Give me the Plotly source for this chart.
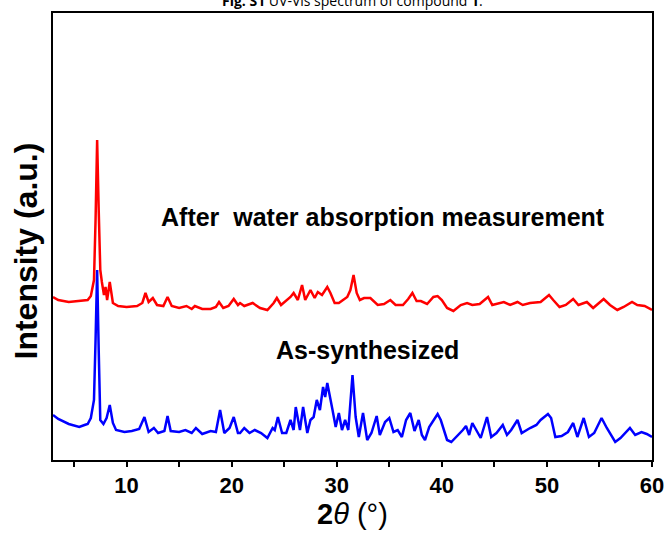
import plotly.graph_objects as go

# Red: after water absorption measurement (2theta, intensity a.u.)
red_x = [3.0, 3.5, 4.5, 5.5, 6.3, 6.6, 6.9, 7.05, 7.2, 7.35, 7.5, 7.65, 7.85, 8.0, 8.15, 8.4, 8.7, 9.2, 10.0, 11.0,
         11.5, 11.8, 12.1, 12.5, 12.9, 13.5, 13.9, 14.3, 15.0, 15.7, 16.2, 16.5, 17.2, 18.0, 18.5, 18.8, 19.2, 19.7, 20.2, 20.6,
         20.8, 21.2, 22.0, 22.7, 23.4, 24.0, 24.3, 24.7, 25.2, 25.6, 25.9, 26.3, 26.7, 27.0, 27.5, 27.9, 28.2, 28.6, 29.1, 29.4,
         29.8, 30.2, 30.6, 31.0, 31.3, 31.6, 31.9, 32.2, 32.6, 33.2, 33.9, 34.5, 35.1, 35.6, 36.3, 36.8, 37.2, 37.6, 38.0, 38.6,
         39.2, 39.6, 40.0, 40.5, 41.1, 41.8, 42.4, 42.9, 43.6, 44.4, 44.8, 45.9, 46.5, 47.2, 47.7, 48.4, 49.4, 50.2, 50.6, 51.2,
         51.8, 52.5, 53.0, 53.8, 54.4, 55.4, 56.0, 56.7, 57.3, 58.1, 58.6, 59.3, 60.0]
red_px = [297, 300, 302, 301, 300, 296, 280, 220, 140, 210, 270, 282, 295, 287, 300, 282, 303, 306, 307, 306,
          303, 293, 302, 298, 305, 306, 297, 306, 308, 306, 309, 306, 309, 309, 307, 302, 308, 306, 299, 305,
          303, 306, 303, 308, 310, 303, 298, 305, 301, 297, 293, 300, 285, 300, 290, 298, 292, 295, 287, 293,
          303, 303, 300, 297, 290, 275, 293, 300, 298, 298, 305, 304, 300, 305, 305, 299, 293, 301, 301, 304,
          297, 296, 300, 308, 311, 305, 303, 305, 304, 297, 305, 302, 305, 302, 305, 303, 302, 295, 300, 307,
          305, 299, 305, 302, 308, 299, 305, 310, 307, 302, 305, 306, 310]
red_y = [460 - v for v in red_px]

# Blue: as-synthesized
blue_x = [3.0, 3.5, 4.5, 5.5, 6.0, 6.3, 6.6, 6.9, 7.05, 7.2, 7.35, 7.5, 7.8, 8.1, 8.4, 8.7, 9.0, 9.8, 10.5, 11.2,
          11.7, 12.1, 12.6, 13.0, 13.6, 13.9, 14.2, 15.0, 15.6, 16.2, 16.6, 17.2, 18.0, 18.5, 18.9, 19.3, 19.8, 20.2, 20.6, 20.8,
          21.2, 21.7, 22.2, 22.8, 23.4, 23.9, 24.1, 24.4, 24.8, 25.2, 25.6, 25.9, 26.1, 26.5, 26.8, 27.2, 27.5, 27.8, 28.1, 28.4,
          28.7, 28.9, 29.1, 29.3, 29.6, 29.9, 30.2, 30.5, 30.8, 31.1, 31.5, 31.8, 32.1, 32.5, 32.9, 33.3, 33.8, 34.1, 34.6, 35.0,
          35.4, 35.8, 36.2, 36.6, 37.0, 37.4, 37.8, 38.1, 38.4, 38.8, 39.2, 39.6, 39.9, 40.2, 40.5, 40.9, 41.4, 42.0, 42.3, 42.6,
          42.9, 43.3, 43.7, 44.3, 44.7, 45.2, 45.8, 46.2, 46.6, 47.2, 47.6, 48.4, 49.0, 49.4, 49.8, 50.1, 50.4, 50.8, 51.4, 52.0,
          52.5, 52.9, 53.5, 54.0, 54.5, 55.2, 55.7, 56.5, 57.0, 57.9, 58.4, 59.0, 59.5, 60.0]
blue_px = [415, 419, 424, 427, 425, 424, 418, 400, 340, 270, 350, 420, 424, 418, 405, 423, 430, 432, 431, 429,
           417, 432, 428, 433, 431, 416, 431, 432, 430, 433, 428, 434, 431, 432, 410, 433, 428, 417, 433, 433,
           428, 433, 430, 433, 438, 428, 430, 417, 433, 433, 420, 430, 407, 430, 407, 433, 420, 417, 400, 410,
           387, 397, 383, 393, 410, 427, 413, 430, 420, 430, 375, 417, 437, 413, 440, 433, 416, 435, 422, 418,
           432, 430, 437, 420, 413, 431, 420, 435, 440, 427, 420, 414, 420, 430, 440, 442, 437, 430, 426, 435,
           423, 430, 438, 417, 437, 433, 425, 435, 430, 420, 433, 428, 425, 420, 417, 414, 418, 437, 436, 432,
           423, 437, 418, 437, 433, 418, 428, 442, 438, 428, 435, 432, 434, 437]
blue_y = [460 - v for v in blue_px]

x_tick_vals = [10, 20, 30, 40, 50, 60]
x_tick_text = ["<b>10</b>", "<b>20</b>", "<b>30</b>", "<b>40</b>", "<b>50</b>", "<b>60</b>"]

FONT = "Liberation Sans"

fig = go.Figure()
fig.add_trace(go.Scatter(x=blue_x, y=blue_y, mode="lines",
                         line=dict(color="#0000ff", width=2.5), name="As-synthesized"))
fig.add_trace(go.Scatter(x=red_x, y=red_y, mode="lines",
                         line=dict(color="#ff0000", width=2.5), name="After water absorption measurement"))

fig.update_layout(
    width=672, height=533,
    margin=dict(l=53, r=20, t=13, b=73, autoexpand=False),
    paper_bgcolor="white", plot_bgcolor="white",
    showlegend=False,
    font=dict(family=FONT, color="black"),
)
fig.update_xaxes(range=[3, 60], showline=True, linecolor="black", linewidth=2, mirror=True,
                 showgrid=False, zeroline=False,
                 tickvals=x_tick_vals, ticktext=x_tick_text,
                 ticks="outside", ticklen=5, tickwidth=2, tickcolor="black",
                 minor=dict(tickvals=[5, 15, 25, 35, 45, 55], ticks="outside", ticklen=5, tickwidth=2, tickcolor="black"),
                 tickfont=dict(family=FONT, size=22, color="black"))
fig.update_yaxes(range=[0, 447], showline=True, linecolor="black", linewidth=2, mirror=True,
                 showgrid=False, zeroline=False, showticklabels=False, ticks="")

fig.add_annotation(x=34.4, y=243, xref="x", yref="y", showarrow=False,
                   text="<b>After\u00a0 water absorption measurement</b>",
                   font=dict(family=FONT, size=25, color="black"))
fig.add_annotation(x=32.9, y=110, xref="x", yref="y", showarrow=False,
                   text="<b>As-synthesized</b>",
                   font=dict(family=FONT, size=25, color="black"))
# axis titles
fig.add_annotation(x=0.5, y=0, xref="paper", yref="paper", yshift=-54, yanchor="middle", showarrow=False,
                   text="<b>2</b><i>θ</i> (°)", font=dict(family=FONT, size=29, color="black"))
fig.add_annotation(x=0, y=0.5, xref="paper", yref="paper", xanchor="center", yanchor="middle",
                   xshift=-28, yshift=-15, showarrow=False,
                   textangle=-90, text="<b>Intensity (a.u.)</b>",
                   font=dict(family=FONT, size=32, color="black"))
# clipped caption at top
fig.add_annotation(x=0.5, y=1, xref="paper", yref="paper", yanchor="bottom", yshift=1, showarrow=False,
                   text="<b>Fig. S1</b> UV-Vis spectrum of compound <b>1</b>.",
                   font=dict(family="Open Sans", size=14, color="black"))

fig.write_html("out.html", config={"displayModeBar": False},
               post_script="document.body.style.margin='0';document.body.style.overflow='hidden';")
